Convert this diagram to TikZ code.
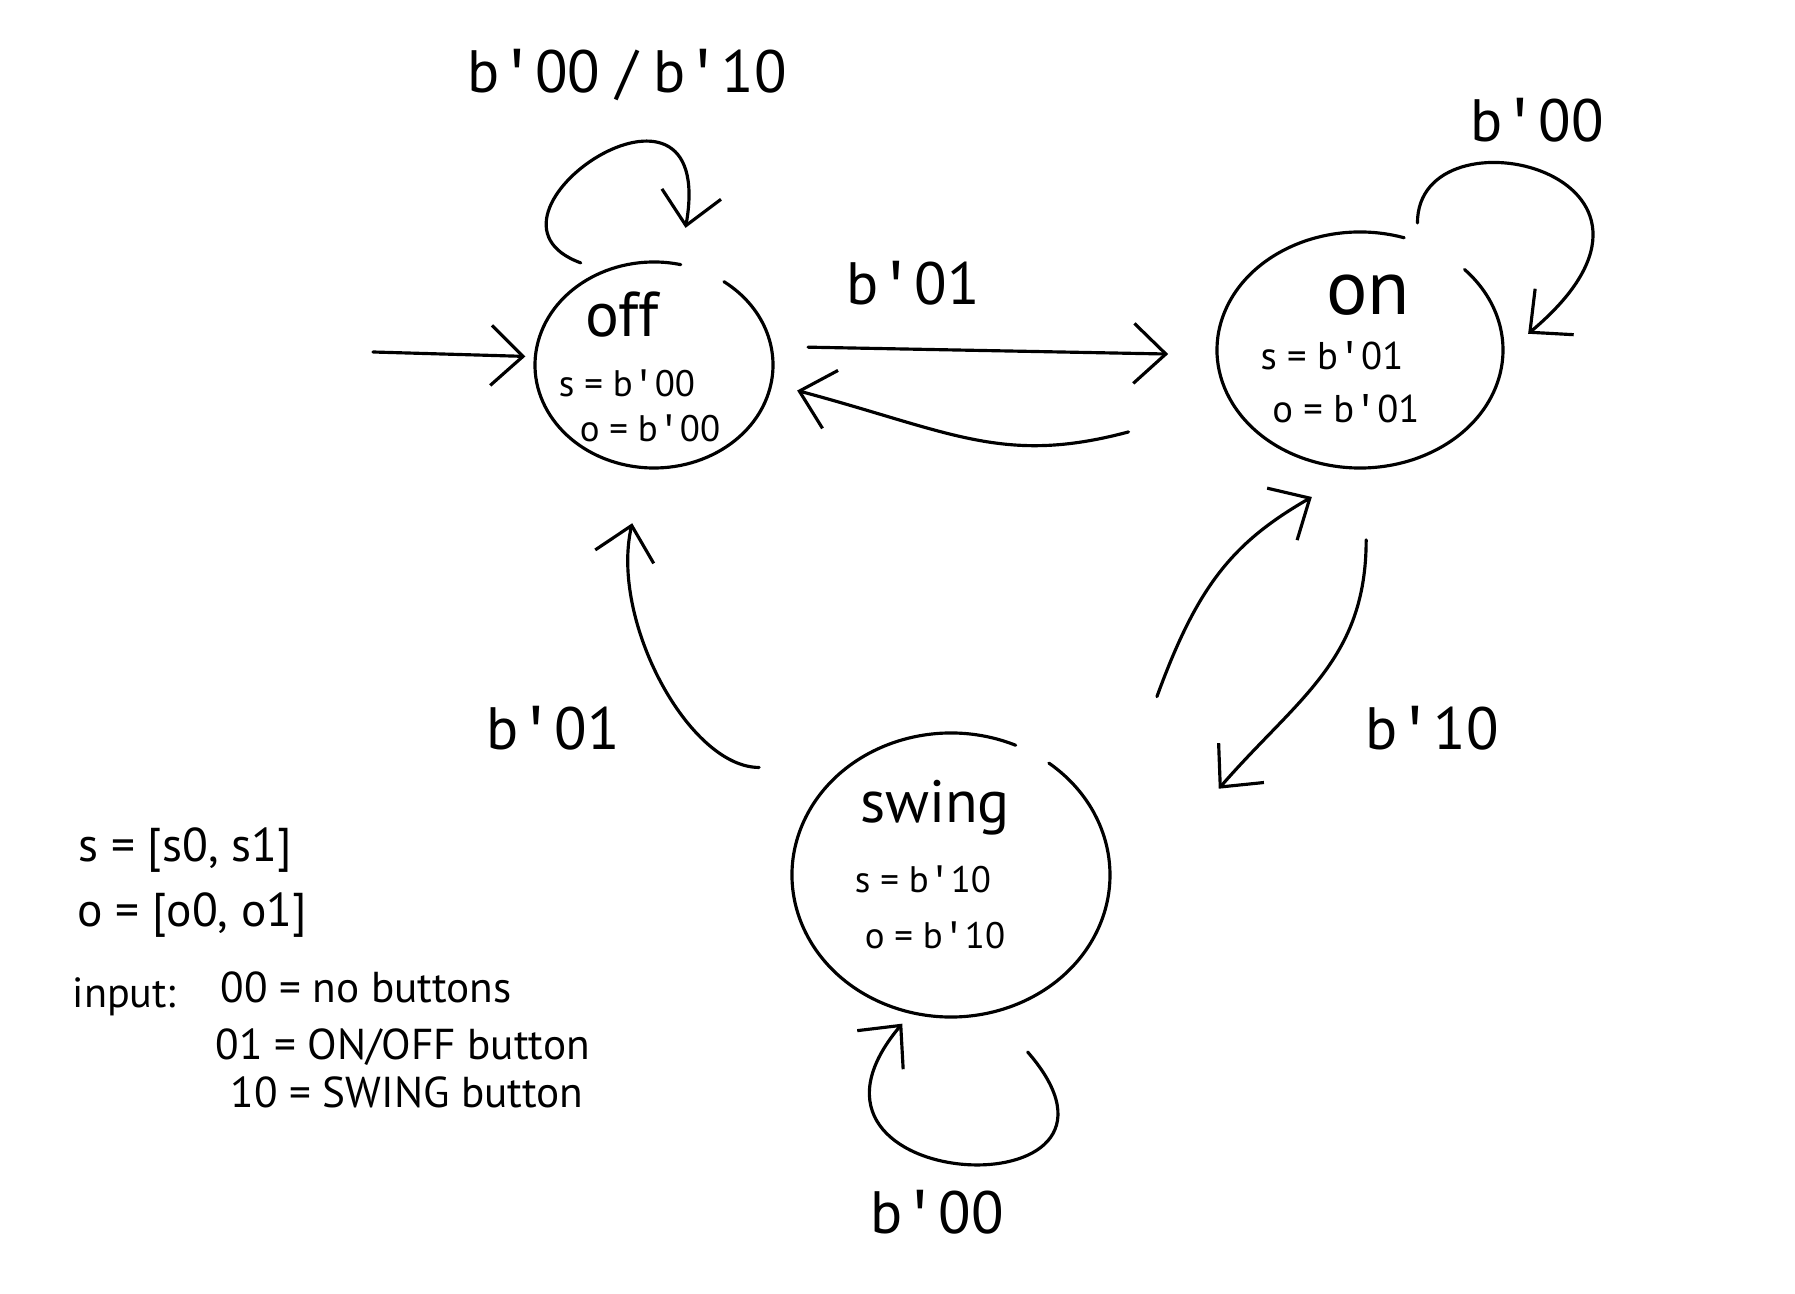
\documentclass[tikz,border=0pt]{standalone}
\usepackage{fontspec}
\setmainfont{PT Sans}
\setmonofont{Liberation Mono}
\usetikzlibrary{arrows.meta,shapes.geometric}
\newcommand{\ap}{{\ttfamily '}}
\tikzset{
  pen/.style={line width=0.9pt, line cap=round, line join=round},
  statebox/.style={ellipse, inner sep=0pt, outer sep=0pt},
  arr/.style={pen, -{Straight Barb[length=3.2mm,width=6mm]}},
  tlabel/.style={inner sep=0pt, anchor=base, font=\fontsize{17}{19}\selectfont},
  sline/.style={inner sep=0pt, anchor=base, font=\fontsize{10.5}{12}\selectfont},
  sname/.style={inner sep=0pt, anchor=base},
  legend/.style={inner sep=0pt, anchor=base west, font=\fontsize{12.3}{14}\selectfont},
}
\begin{document}
\begin{tikzpicture}
\fill[white] (0,0) rectangle (17.95,-12.94);
\useasboundingbox (0,0) rectangle (17.95,-12.94);
% states
\node[statebox, minimum width=2.38cm, minimum height=2.06cm] (off) at (6.54,-3.65) {};
\node[statebox, minimum width=2.86cm, minimum height=2.36cm] (on) at (13.60,-3.50) {};
\node[statebox, minimum width=3.18cm, minimum height=2.84cm] (swing) at (9.51,-8.75) {};
\draw[pen] (off.center) ++(77:1.19 and 1.03) arc[start angle=77, end angle=414, x radius=1.19cm, y radius=1.03cm];
\draw[pen] (on.center) ++(72:1.43 and 1.18) arc[start angle=72, end angle=403, x radius=1.43cm, y radius=1.18cm];
\draw[pen] (swing.center) ++(66:1.59 and 1.42) arc[start angle=66, end angle=412, x radius=1.59cm, y radius=1.42cm];
% texts inside states
\node[sname, font=\fontsize{18}{20}\selectfont] (offname) at (6.22,-3.37) {off};
\node[sline] (offs) at (6.27,-3.97) {s = b\ap 00};
\node[sline] (offo) at (6.50,-4.42) {o = b\ap 00};
\node[sname, font=\fontsize{22}{24}\selectfont] (onname) at (13.68,-3.15) {on};
\node[sline, font=\fontsize{11}{13}\selectfont] (ons) at (13.32,-3.70) {s = b\ap 01};
\node[sline, font=\fontsize{11}{13}\selectfont] (ono) at (13.46,-4.23) {o = b\ap 01};
\node[sname, font=\fontsize{17}{19}\selectfont] (swingname) at (9.35,-8.23) {swing};
\node[sline] (swings) at (9.23,-8.93) {s = b\ap 10};
\node[sline] (swingo) at (9.35,-9.48) {o = b\ap 10};
% connectors
\coordinate (init) at (3.73,-3.52);
\draw[arr, shorten >=0.1cm] (init) -- (off.176);
\draw[arr, shorten <=0.25cm, shorten >=0.37cm] (off.118) to[out=160, in=80, out distance=1.6cm, in distance=2.3cm] (off.76);
\draw[arr, shorten <=0.37cm, shorten >=0.49cm] (off.9) -- (on.182);
\draw[arr, shorten <=1.08cm, shorten >=0.27cm] (on.203) to[out=195, in=345, out distance=2.38cm, in distance=1.87cm] (off.351);
\draw[arr, shorten <=0.72cm, shorten >=1.82cm] (on.273) to[out=270, in=49, out distance=1.92cm, in distance=3.02cm] (swing.341);
\draw[arr, shorten <=1.52cm, shorten >=0.58cm] (swing.13) to[out=70, in=210, out distance=2.72cm, in distance=1.48cm] (on.271);
\draw[arr, shorten <=0.88cm, shorten >=0.57cm] (swing.134) to[out=180, in=257, out distance=1.58cm, in distance=1.57cm] (off.265);
\draw[arr, shorten <=0.19cm, shorten >=0.33cm] (on.62) to[out=90, in=40, out distance=1.39cm, in distance=2.83cm] (on.358);
\draw[arr, shorten <=0.53cm, shorten >=0.145cm] (swing.287) to[out=311, in=230, out distance=2.7cm, in distance=2.4cm] (swing.254);
% transition labels
\node[tlabel] (loffloop) at (6.27,-0.93) {b\ap 00 / b\ap 10};
\node[tlabel] (lonloop) at (15.37,-1.42) {b\ap 00};
\node[tlabel] (loffon) at (9.13,-3.05) {b\ap 01};
\node[tlabel] (lswoff) at (5.53,-7.50) {b\ap 01};
\node[tlabel] (lonsw) at (14.32,-7.50) {b\ap 10};
\node[tlabel] (lswloop) at (9.37,-12.33) {b\ap 00};
% legend
\node[legend, font=\fontsize{13.5}{15}\selectfont] (lg1) at (0.78,-8.62) {s = [s0, s1]};
\node[legend, font=\fontsize{13.5}{15}\selectfont] (lg2) at (0.77,-9.27) {o = [o0, o1]};
\node[legend, font=\fontsize{12}{14}\selectfont] (lg3) at (0.72,-10.07) {input:};
\node[legend] (lg4) at (2.20,-10.03) {00 = no buttons};
\node[legend] (lg5) at (2.15,-10.60) {01 = ON/OFF button};
\node[legend] (lg6) at (2.30,-11.07) {10 = SWING button};
\end{tikzpicture}
\end{document}
